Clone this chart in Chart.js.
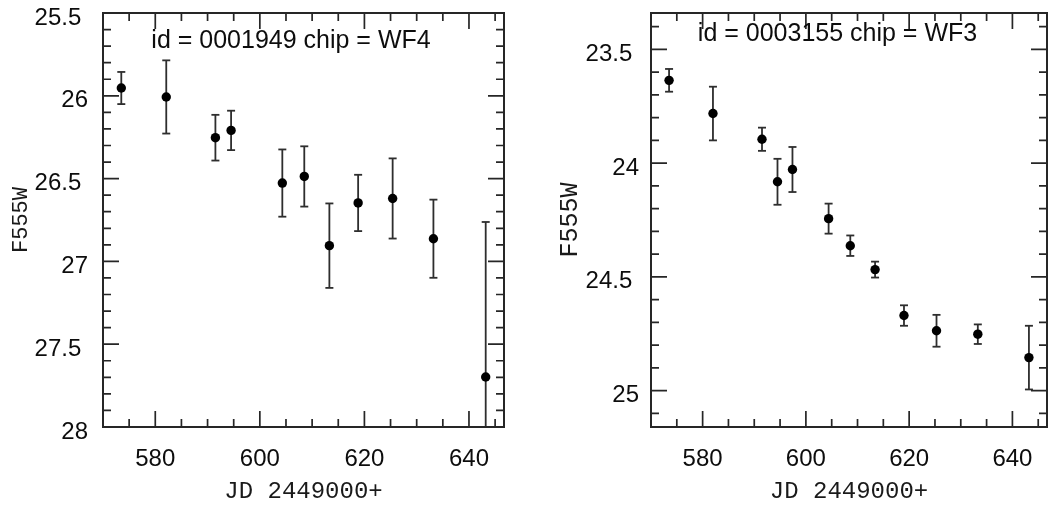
<!DOCTYPE html>
<html><head><meta charset="utf-8">
<script src="https://cdn.jsdelivr.net/npm/chart.js@4.4.1/dist/chart.umd.min.js"></script>
<style>
html,body{margin:0;padding:0;background:#fff;}
#wrap{position:relative;width:1061px;height:507px;overflow:hidden;background:#fff;}
#c1{position:absolute;left:0;top:0;}
#c2{position:absolute;left:530px;top:0;}
</style></head><body>
<div id="wrap"><canvas id="c1" width="530" height="507"></canvas><canvas id="c2" width="531" height="507"></canvas></div>
<script>
// ---- data ----
const jdA  = [573.5, 582.1, 591.5, 594.5, 604.3, 608.5, 613.3, 618.8, 625.4, 633.2, 643.2];
const magA = [25.953, 26.007, 26.253, 26.209, 26.527, 26.487, 26.905, 26.647, 26.620, 26.863, 27.698];
const errA = [0.097, 0.221, 0.138, 0.119, 0.203, 0.182, 0.255, 0.170, 0.242, 0.236, 0.936];

const jdB  = [573.5, 582.0, 591.5, 594.5, 597.4, 604.4, 608.6, 613.4, 619.0, 625.3, 633.3, 643.2];
const magB = [23.636, 23.782, 23.895, 24.082, 24.028, 24.244, 24.363, 24.468, 24.670, 24.737, 24.752, 24.855];
const errB = [0.050, 0.118, 0.051, 0.101, 0.099, 0.066, 0.045, 0.035, 0.045, 0.070, 0.043, 0.140];

const titleA = 'id = 0001949 chip = WF4';
const titleB = 'id = 0003155 chip = WF3';
const xTicks  = [580, 600, 620, 640];
const yTicksA = [25.5, 26, 26.5, 27, 27.5, 28];
const yTicksB = [23.5, 24, 24.5, 25];
const xLabel = 'JD 2449000+';
const yLabel = 'F555W';

const SANS = '"Liberation Sans", Arial, Helvetica, sans-serif';
const MONO = '"Liberation Mono", "DejaVu Sans Mono", monospace';
const INK = '#262626';

// frame, inward ticks on all four sides, and the in-panel caption
const framePlugin = {
  id: 'frame',
  afterDatasetsDraw(chart, args, opts) {
    const {ctx, chartArea: a} = chart;
    const x = chart.scales.x, y = chart.scales.y;
    ctx.save();
    ctx.strokeStyle = INK;
    ctx.lineWidth = 1.7;
    ctx.beginPath();
    for (let v = 570; v <= x.max + 1e-9; v += 5) {
      const px = x.getPixelForValue(v);
      if (px <= a.left + 1 || px >= a.right - 1) continue;
      const L = (v % 20 === 0) ? 16 : 8;
      ctx.moveTo(px, a.bottom); ctx.lineTo(px, a.bottom - L);
      ctx.moveTo(px, a.top); ctx.lineTo(px, a.top + L);
    }
    const k0 = Math.ceil(y.min * 10 - 1e-6), k1 = Math.floor(y.max * 10 + 1e-6);
    for (let k = k0; k <= k1; k++) {
      const py = y.getPixelForValue(k / 10);
      if (py <= a.top + 1 || py >= a.bottom - 1) continue;
      const L = (k % 5 === 0) ? 16 : 8;
      ctx.moveTo(a.left, py); ctx.lineTo(a.left + L, py);
      ctx.moveTo(a.right, py); ctx.lineTo(a.right - L, py);
    }
    ctx.stroke();
    ctx.lineWidth = 2;
    ctx.strokeRect(a.left, a.top, a.right - a.left, a.bottom - a.top);
    ctx.font = '25px ' + SANS;
    ctx.fillStyle = '#0d0d0d';
    ctx.textAlign = 'center';
    ctx.textBaseline = 'middle';
    ctx.fillText(opts.text, a.left + opts.dx, a.top + opts.dy);
    ctx.restore();
  }
};

function errSets(jd, mag, err) {
  return jd.map((xv, i) => ({
    type: 'line',
    data: [{x: xv, y: mag[i] - err[i]}, {x: xv, y: mag[i] + err[i]}],
    borderColor: '#2e2e2e', borderWidth: 1.8,
    pointStyle: 'line', pointRadius: 4, pointHoverRadius: 4,
    pointBorderWidth: 1.8, pointBorderColor: '#2e2e2e',
    fill: false, order: 2
  }));
}

function makeChart(id, jd, mag, err, yMin, yMax, yTicks, cfg) {
  const data = jd.map((xv, i) => ({x: xv, y: mag[i]}));
  return new Chart(document.getElementById(id), {
    type: 'scatter',
    data: {
      datasets: [{
        type: 'scatter', data, pointRadius: 4.7, pointHoverRadius: 4.7,
        backgroundColor: '#000', borderWidth: 0, order: 1
      }].concat(errSets(jd, mag, err))
    },
    options: {
      responsive: false, animation: false, devicePixelRatio: 1,
      layout: {padding: {top: 13, right: cfg.padRight, bottom: 0, left: 0}},
      plugins: {
        legend: {display: false}, tooltip: {enabled: false},
        frame: {text: cfg.title, dx: cfg.tdx, dy: cfg.tdy}
      },
      scales: {
        x: {
          type: 'linear', position: 'bottom', min: 570, max: 646.7,
          grid: {display: false, drawTicks: false}, border: {display: false},
          afterBuildTicks: s => { s.ticks = xTicks.map(v => ({value: v})); },
          afterFit: s => { s.height = 80; s.paddingLeft = 0; s.paddingRight = 0; },
          ticks: {font: {family: SANS, size: 24}, color: '#0d0d0d', padding: 18,
                  maxRotation: 0, autoSkip: false},
          title: {display: true, text: xLabel, color: '#1a1a1a',
                  font: {family: MONO, size: 24}, padding: {top: 0, bottom: 1}}
        },
        y: {
          type: 'linear', position: 'left', reverse: true, min: yMin, max: yMax,
          grid: {display: false, drawTicks: false}, border: {display: false},
          afterBuildTicks: s => { s.ticks = yTicks.map(v => ({value: v})); },
          afterFit: s => { s.width = cfg.yWidth; s.paddingTop = 0; s.paddingBottom = 0; },
          ticks: {font: {family: SANS, size: 24}, color: '#0d0d0d', padding: cfg.yPad,
                  labelOffset: 5, autoSkip: false,
                  callback: v => Number.isInteger(v) ? String(v) : v.toFixed(1) + ' '},
          title: {display: true, text: yLabel, color: '#1a1a1a',
                  font: {family: MONO, size: cfg.ySize}, padding: {top: cfg.yTitlePad, bottom: 0}}
        }
      }
    },
    plugins: [framePlugin]
  });
}

makeChart('c1', jdA, magA, errA, 25.5, 28, yTicksA,
  {title: titleA, tdx: 188, tdy: 28.5, padRight: 26, yWidth: 103, yPad: 15, ySize: 22, yTitlePad: 8});
makeChart('c2', jdB, magB, errB, 23.34, 25.16, yTicksB,
  {title: titleB, tdx: 186.5, tdy: 21, padRight: 14, yWidth: 121, yPad: 12, ySize: 25, yTitlePad: 25});
</script>
</body></html>
